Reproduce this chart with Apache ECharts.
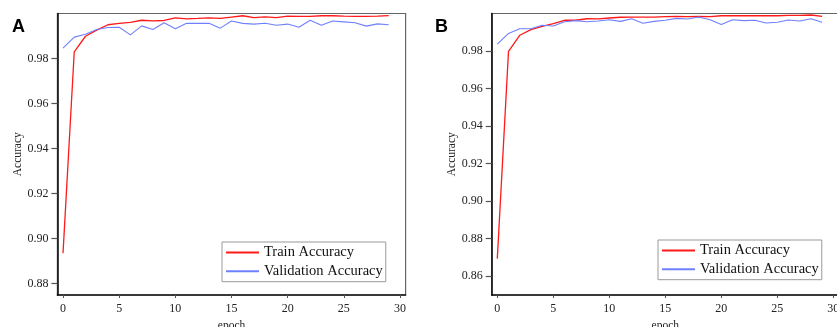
<!DOCTYPE html>
<html>
<head>
<meta charset="utf-8">
<script src="https://cdn.jsdelivr.net/npm/echarts@6/dist/echarts.min.js"></script>
<style>
  html, body { margin: 0; padding: 0; background: #fff; overflow: hidden; }
  #chart { width: 850px; height: 327px; }
</style>
</head>
<body>
<div id="chart"></div>
<script>
const epochs = Array.from({ length: 30 }, (_, i) => i);

const trainA = [0.8936, 0.9830, 0.9899, 0.9926, 0.9950, 0.9956, 0.9961, 0.9970, 0.9967, 0.9969,
  0.9981, 0.9976, 0.9978, 0.9981, 0.9978, 0.9984, 0.9990, 0.9982, 0.9985, 0.9982,
  0.9988, 0.9987, 0.9987, 0.9990, 0.9990, 0.9988, 0.9987, 0.9987, 0.9988, 0.9991];
const valA = [0.9846, 0.9895, 0.9908, 0.9929, 0.9938, 0.9939, 0.9905, 0.9945, 0.9929, 0.9959,
  0.9932, 0.9957, 0.9956, 0.9957, 0.9935, 0.9967, 0.9956, 0.9953, 0.9957, 0.9948,
  0.9953, 0.9939, 0.9970, 0.9948, 0.9967, 0.9963, 0.9959, 0.9944, 0.9954, 0.9950];

const trainB = [0.8694, 0.9798, 0.9884, 0.9914, 0.9932, 0.9946, 0.9964, 0.9964, 0.9972, 0.9971,
  0.9976, 0.9980, 0.9981, 0.9981, 0.9981, 0.9983, 0.9985, 0.9983, 0.9985, 0.9983,
  0.9988, 0.9988, 0.9988, 0.9988, 0.9988, 0.9988, 0.9990, 0.9990, 0.9992, 0.9985];
const valB = [0.9837, 0.9894, 0.9919, 0.9919, 0.9937, 0.9933, 0.9956, 0.9962, 0.9956, 0.9960,
  0.9967, 0.9958, 0.9972, 0.9948, 0.9958, 0.9964, 0.9974, 0.9971, 0.9981, 0.9967,
  0.9942, 0.9967, 0.9962, 0.9964, 0.9949, 0.9953, 0.9965, 0.9960, 0.9972, 0.9953];

const xTicks = [0, 5, 10, 15, 20, 25, 30];
const yTicksA = [0.88, 0.90, 0.92, 0.94, 0.96, 0.98];
const yTicksB = [0.86, 0.88, 0.90, 0.92, 0.94, 0.96, 0.98];

const SERIF = "Liberation Serif, Times New Roman, serif";
const RED = "#ff1a1a";
const BLUE = "#6f80ff";

function xAxisFor(gridIndex) {
  return {
    type: "value",
    gridIndex,
    min: -0.5,
    max: 30.5,
    name: "epoch",
    nameLocation: "middle",
    nameGap: 22,
    nameTextStyle: { fontFamily: SERIF, fontSize: 11.5, color: "#222" },
    axisLine: { show: true, onZero: false, lineStyle: { color: "#111", width: 1.6 } },
    axisTick: { show: true, length: 3, customValues: xTicks, lineStyle: { color: "#555" } },
    axisLabel: { customValues: xTicks, margin: 8, fontFamily: SERIF, fontSize: 12, color: "#222" },
    splitLine: { show: false },
  };
}

function yAxisFor(gridIndex, min, ticks) {
  return {
    type: "value",
    gridIndex,
    min,
    max: 1.0,
    name: "Accuracy",
    nameLocation: "middle",
    nameGap: 32,
    nameTextStyle: { fontFamily: SERIF, fontSize: 11.5, color: "#222" },
    axisLine: { show: true, onZero: false, lineStyle: { color: "#111", width: 1.6 } },
    axisTick: { show: true, length: 6, customValues: ticks, lineStyle: { color: "#555", width: 1.2 } },
    axisLabel: {
      customValues: ticks,
      margin: 9,
      fontFamily: SERIF,
      fontSize: 12,
      color: "#222",
      formatter: (v) => v.toFixed(2),
    },
    splitLine: { show: false },
  };
}

function legendFor(left, top, names) {
  return {
    left,
    top,
    orient: "vertical",
    data: names,
    itemWidth: 33,
    itemHeight: 14,
    itemGap: 3.7,
    padding: [3, 3, 3, 3],
    borderColor: "#999",
    borderWidth: 1,
    borderRadius: 0,
    selectedMode: false,
    itemStyle: { opacity: 0 },
    textStyle: { fontFamily: SERIF, fontSize: 14.5, color: "#111" },
  };
}

function lineSeries(name, xi, data, color, width) {
  return {
    name,
    type: "line",
    xAxisIndex: xi,
    yAxisIndex: xi,
    data: data.map((v, i) => [epochs[i], v]),
    symbol: "none",
    lineStyle: { color, width },
    itemStyle: { color },
    animation: false,
  };
}

const chart = echarts.init(document.getElementById("chart"), null, { renderer: "canvas" });

const letterStyle = { fontFamily: "Liberation Sans, Arial, sans-serif", fontWeight: "bold", fontSize: 18, color: "#000" };

chart.setOption({
  backgroundColor: "#fff",
  title: [
    { text: "A", left: 7, top: 13, textStyle: letterStyle },
    { text: "B", left: 430, top: 13, textStyle: letterStyle },
  ],
  grid: [
    { left: 57.4, top: 13.5, width: 348.2, height: 281.5, show: true, borderColor: "#666", borderWidth: 1.2, containLabel: false, outerBoundsMode: "none" },
    { left: 491.7, top: 13.5, width: 347.2, height: 281.5, show: true, borderColor: "#666", borderWidth: 1.2, containLabel: false, outerBoundsMode: "none" },
  ],
  xAxis: [xAxisFor(0), xAxisFor(1)],
  yAxis: [yAxisFor(0, 0.875, yTicksA), yAxisFor(1, 0.85, yTicksB)],
  legend: [
    legendFor(222, 242, ["Train Accuracy", "Validation Accuracy"]),
    legendFor(658, 240, ["Train Accuracy", "Validation Accuracy"]),
  ],
  series: [
    lineSeries("Train Accuracy", 0, trainA, RED, 1.3),
    lineSeries("Validation Accuracy", 0, valA, BLUE, 1.1),
    lineSeries("Train Accuracy", 1, trainB, RED, 1.3),
    lineSeries("Validation Accuracy", 1, valB, BLUE, 1.1),
  ],
});
</script>
</body>
</html>
